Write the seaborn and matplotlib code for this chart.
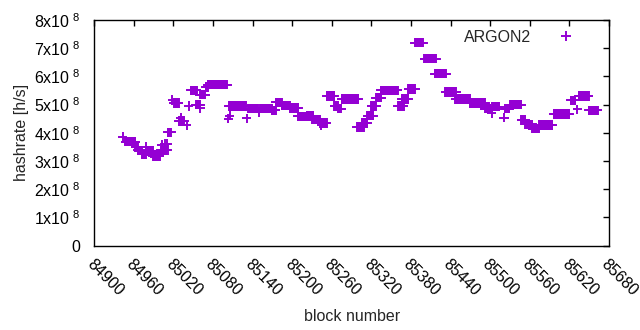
import numpy as np
import pandas as pd
import matplotlib
matplotlib.use('Agg')
import matplotlib.pyplot as plt
import seaborn as sns

# plateaus of the hashrate: first block, last block, value [1e8 h/s]
seg_start = [84943, 84947, 84962, 84966, 84972, 84978, 84989, 85001, 85007, 85011,
             85018, 85021, 85031, 85028, 85040, 85043, 85046, 85054, 85060, 85060,
             85069, 85072, 85103, 85105, 85104, 85131, 85133, 85149, 85151, 85169,
             85175, 85184, 85196, 85208, 85222, 85230, 85242, 85244, 85252, 85264,
             85270, 85275, 85298, 85305, 85314, 85320, 85327, 85334, 85360, 85366,
             85376, 85386, 85400, 85416, 85432, 85447, 85469, 85492, 85502, 85503,
             85521, 85522, 85530, 85547, 85553, 85564, 85574, 85596, 85622, 85632,
             85634, 85649, 84979, 85002, 85010, 84991, 84996, 85011]
seg_end = [84943, 84962, 84966, 84972, 84978, 84989, 84999, 85009, 85007, 85016,
           85018, 85028, 85031, 85036, 85040, 85043, 85055, 85060, 85060, 85068,
           85072, 85101, 85103, 85105, 85130, 85131, 85148, 85149, 85169, 85175,
           85184, 85196, 85209, 85222, 85232, 85242, 85252, 85244, 85264, 85269,
           85274, 85300, 85308, 85314, 85323, 85327, 85335, 85360, 85369, 85376,
           85386, 85398, 85418, 85433, 85448, 85469, 85492, 85500, 85502, 85514,
           85521, 85529, 85547, 85553, 85564, 85574, 85594, 85620, 85629, 85632,
           85649, 85663, 84979, 85002, 85010, 84991, 84996, 85011]
seg_value = [3.86, 3.68, 3.49, 3.38, 3.23, 3.35, 3.18, 3.38, 3.60, 4.02,
             5.16, 5.05, 4.53, 4.42, 4.27, 4.95, 5.50, 5.00, 4.87, 5.35,
             5.62, 5.71, 4.50, 4.60, 4.95, 4.51, 4.85, 4.73, 4.87, 4.80,
             5.08, 4.97, 4.88, 4.58, 4.60, 4.47, 4.35, 4.27, 5.30, 4.95,
             4.85, 5.20, 4.20, 4.35, 4.60, 4.95, 5.25, 5.50, 4.95, 5.20,
             5.55, 7.20, 6.63, 6.10, 5.45, 5.20, 5.05, 4.85, 4.70, 4.92,
             4.53, 4.85, 5.00, 4.45, 4.30, 4.15, 4.28, 4.67, 5.15, 4.83,
             5.30, 4.80, 3.50, 3.56, 3.60, 3.15, 3.27, 3.39]

blocks = np.concatenate([np.arange(s, e + 1) for s, e in zip(seg_start, seg_end)])
rates = np.concatenate([np.full(e - s + 1, v * 1e8) for s, e, v in zip(seg_start, seg_end, seg_value)])
df = pd.DataFrame({'block': blocks, 'hashrate': rates, 'algo': 'ARGON2'})

sns.set_theme(style='white')
plt.rcParams['font.family'] = ['Liberation Sans', 'DejaVu Sans']
plt.rcParams['mathtext.fontset'] = 'custom'
plt.rcParams['mathtext.rm'] = 'Liberation Sans'
fs = 11.5

fig = plt.figure(figsize=(6.4, 3.3), dpi=100)
ax = fig.add_axes([94.3 / 640, 1 - 245.5 / 330, (609 - 94.3) / 640, (245.5 - 20) / 330])

sns.scatterplot(data=df, x='block', y='hashrate', hue='algo', palette=['#9400d3'],
                marker='+', s=45, linewidth=1.4, ax=ax)

ax.set_xlim(84900, 85680)
ax.set_ylim(0, 8e8)
xt = np.arange(84900, 85681, 60)
ax.set_xticks(xt)
ax.set_xticklabels([str(v) for v in xt], rotation=-45, ha='left', va='top',
                   rotation_mode='anchor', fontsize=fs)
yt = np.arange(0, 9) * 1e8
ax.set_yticks(yt)
ax.set_yticklabels(['0'] + [r'$\mathregular{%dx10^{\ 8}}$' % i for i in range(1, 9)], fontsize=fs)
ax.tick_params(direction='in', length=4, width=1, top=True, right=True, colors='black')
ax.tick_params(axis='y', pad=10)
ax.tick_params(axis='x', pad=8)
for sp in ax.spines.values():
    sp.set_color('black')
    sp.set_linewidth(1)

ax.set_xlabel('block number', fontsize=fs, labelpad=7)
ax.set_ylabel('hashrate [h/s]', fontsize=fs, labelpad=4)

ax.legend(loc='upper right', markerfirst=False, frameon=False, fontsize=fs,
          bbox_to_anchor=(0.975, 1.02), handletextpad=1.2)

fig.savefig('out.png', dpi=100)
